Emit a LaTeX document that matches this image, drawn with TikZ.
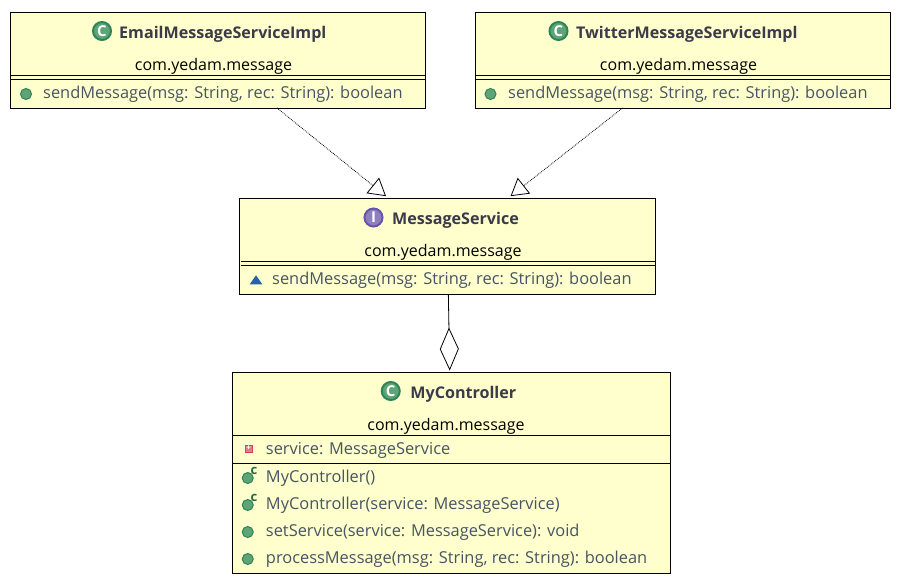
\documentclass[tikz,border=0pt]{standalone}
\usepackage{fontspec}
\setmainfont{Open Sans}
\usetikzlibrary{positioning, arrows.meta, shapes.geometric}
\definecolor{boxyellow}{RGB}{255, 255, 206}
\definecolor{titleink}{RGB}{58, 58, 72}
\definecolor{memberink}{RGB}{70, 84, 100}
\definecolor{ballgreen}{RGB}{94, 164, 118}
\definecolor{ringgreen}{RGB}{46, 132, 86}
\definecolor{ifacepurple}{RGB}{104, 84, 168}
\definecolor{pkgblue}{RGB}{38, 98, 168}
\definecolor{privred}{RGB}{216, 64, 92}

\begin{document}
\begin{tikzpicture}[x=1pt, y=-1pt,
      umlbox/.style={draw=black, fill=boxyellow, line width=1pt, minimum width=#1, minimum height=95.5pt, inner sep=0pt, outer sep=0pt},
      titletext/.style={anchor=base west, inner sep=0pt, font=\fontsize{16.1}{20}\selectfont\bfseries, text=titleink},
      pkgtext/.style={anchor=base, inner sep=0pt, font=\fontsize{16}{20}\selectfont, text=black},
      membertext/.style={anchor=base west, inner sep=0pt, font=\fontsize{16.4}{20}\selectfont, text=memberink},
      classicon/.style={circle, draw=ringgreen, fill=ballgreen, line width=2pt, minimum size=18pt, inner sep=0pt, font=\fontsize{15}{15}\selectfont\bfseries, text=white},
      ifaceicon/.style={classicon, draw=ifacepurple, fill=ifacepurple!75},
      ballicon/.style={circle, draw=ringgreen, fill=ballgreen, line width=1pt, minimum size=11pt, inner sep=0pt},
      ctoricon/.style={ballicon, label={[ctormark]48:c}},
      ctormark/.style={inner sep=0pt, label distance=-2pt, font=\fontsize{13}{13}\selectfont\bfseries, text=ringgreen!80!black},
      pkgicon/.style={isosceles triangle, isosceles triangle apex angle=70, shape border rotate=90, fill=pkgblue, minimum size=9pt, inner sep=0pt},
      privicon/.style={rectangle, draw=privred, fill=privred!70, line width=1pt, minimum size=7pt, inner sep=0pt, font=\fontsize{8}{8}\selectfont\bfseries, text=white},
      rule/.style={line width=1pt, black},
      realizes/.style={densely dotted, line width=0.8pt, -{Triangle[open, length=17pt, width=20pt, line width=0.8pt]}, shorten >=3pt},
      aggregates/.style={line width=0.8pt, -{Diamond[open, length=43pt, width=19pt, line width=0.8pt]}, shorten >=2pt}
    ]
      \useasboundingbox (0,0) rectangle (902,587);

      \node [umlbox=415pt] (email) at (218,60.25) {};
      \node [umlbox=415pt, right=50pt of email] (twitter) {};
      \node [umlbox=416pt, minimum height=96pt, below=90pt of email, xshift=229.5pt] (service) {};
      \node [umlbox=437.5pt, minimum height=200.5pt, below=78.5pt of service, xshift=4pt] (controller) {};

      \node [classicon] (emailicon) at ([xshift=91.5pt, yshift=-18.5pt]email.north west) {C};
      \node [titletext] (emailname) at ([xshift=108.5pt, yshift=-26pt]email.north west) {EmailMessageServiceImpl};
      \node [pkgtext] (emailpkg) at ([xshift=-4.5pt, yshift=-57.5pt]email.north) {com.yedam.message};
      \draw [rule] (email.west |- 0,75.5) -- (email.east |- 0,75.5);
      \draw [rule] (email.west |- 0,79.5) -- (email.east |- 0,79.5);
      \node [ballicon] (emailball) at ([xshift=15.5pt, yshift=-81.5pt]email.north west) {};
      \node [membertext] (emailsend) at ([xshift=32.5pt, yshift=-85.5pt]email.north west) {sendMessage(msg: String, rec: String): boolean};

      \node [classicon] (twittericon) at ([xshift=83pt, yshift=-18.5pt]twitter.north west) {C};
      \node [titletext] (twittername) at ([xshift=100.5pt, yshift=-26pt]twitter.north west) {TwitterMessageServiceImpl};
      \node [pkgtext] (twitterpkg) at ([xshift=-4.5pt, yshift=-57.5pt]twitter.north) {com.yedam.message};
      \draw [rule] (twitter.west |- 0,75.5) -- (twitter.east |- 0,75.5);
      \draw [rule] (twitter.west |- 0,79.5) -- (twitter.east |- 0,79.5);
      \node [ballicon] (twitterball) at ([xshift=15pt, yshift=-81.5pt]twitter.north west) {};
      \node [membertext] (twittersend) at ([xshift=32.5pt, yshift=-85.5pt]twitter.north west) {sendMessage(msg: String, rec: String): boolean};

      \node [ifaceicon] (serviceicon) at ([xshift=134pt, yshift=-19.5pt]service.north west) {I};
      \node [titletext] (servicename) at ([xshift=152.5pt, yshift=-26pt]service.north west) {MessageService};
      \node [pkgtext] (servicepkg) at ([xshift=-4.5pt, yshift=-58.5pt]service.north) {com.yedam.message};
      \draw [rule] ([xshift=1.5pt]service.west |- 0,261.5) -- ([xshift=-1pt]service.east |- 0,261.5);
      \draw [rule] ([xshift=1.5pt]service.west |- 0,265.5) -- ([xshift=-1pt]service.east |- 0,265.5);
      \node [pkgicon] (servicetri) at ([xshift=16.5pt, yshift=-83pt]service.north west) {};
      \node [membertext] (servicesend) at ([xshift=32.5pt, yshift=-86pt]service.north west) {sendMessage(msg: String, rec: String): boolean};

      \node [classicon] (controllericon) at ([xshift=158pt, yshift=-18.5pt]controller.north west) {C};
      \node [titletext] (controllername) at ([xshift=177.5pt, yshift=-26pt]controller.north west) {MyController};
      \node [pkgtext] (controllerpkg) at ([xshift=-5.5pt, yshift=-58pt]controller.north) {com.yedam.message};
      \draw [rule] (controller.west |- 0,435.5) -- (controller.east |- 0,435.5);
      \draw [rule] (controller.west |- 0,463.5) -- (controller.east |- 0,463.5);
      \node [privicon] (fieldicon) at ([xshift=16pt, yshift=-76pt]controller.north west) {+};
      \node [membertext] (fieldtext) at ([xshift=33pt, yshift=-81.5pt]controller.north west) {service: MessageService};
      \node [ctoricon] (ctorball) at ([xshift=15pt, yshift=-105.5pt]controller.north west) {};
      \node [membertext] (ctortext) at ([xshift=33pt, yshift=-110pt]controller.north west) {MyController()};
      \node [ctoricon] (ctorballb) at ([xshift=15pt, yshift=-132.5pt]controller.north west) {};
      \node [membertext] (ctortextb) at ([xshift=33pt, yshift=-136.5pt]controller.north west) {MyController(service: MessageService)};
      \node [ballicon] (setball) at ([xshift=15pt, yshift=-159.5pt]controller.north west) {};
      \node [membertext] (settext) at ([xshift=33pt, yshift=-164pt]controller.north west) {setService(service: MessageService): void};
      \node [ballicon] (procball) at ([xshift=15pt, yshift=-186.5pt]controller.north west) {};
      \node [membertext] (proctext) at ([xshift=33pt, yshift=-191pt]controller.north west) {processMessage(msg: String, rec: String): boolean};

      \draw [realizes] (email) -- (service);
      \draw [realizes] (twitter) -- (service);
      \draw [aggregates] (service) -- (controller);
    \end{tikzpicture}
\end{document}
